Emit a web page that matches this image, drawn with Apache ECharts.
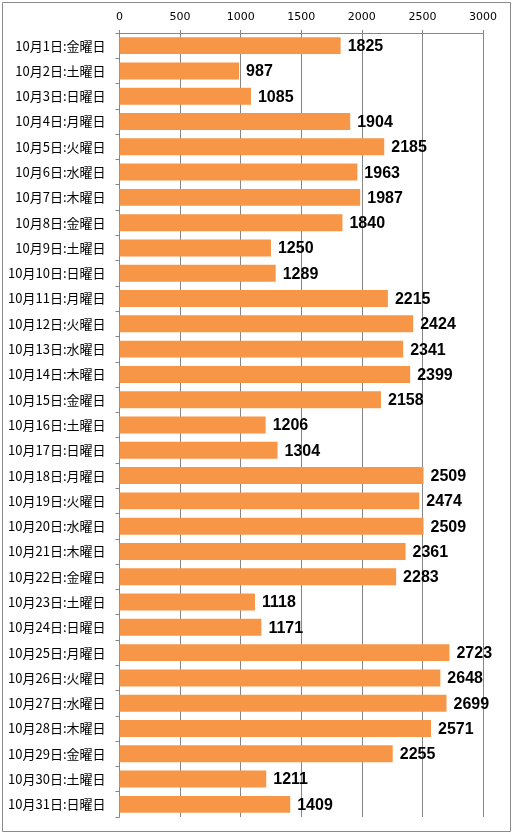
<!DOCTYPE html>
<html><head><meta charset="utf-8">
<script src="https://cdn.jsdelivr.net/npm/echarts@6/dist/echarts.min.js"></script>
<style>html,body{margin:0;padding:0;background:#fff}#c{width:513px;height:834px}</style>
</head><body><div id="c"></div>
<script>
var days = [];
var weekdays = ['金','土','日','月','火','水','木'];
for (var d = 1; d <= 31; d++) { days.push('10月' + d + '日:' + weekdays[(d - 1) % 7] + '曜日'); }
var values = [1825, 987, 1085, 1904, 2185, 1963, 1987, 1840, 1250, 1289, 2215, 2424, 2341, 2399, 2158, 1206, 1304, 2509, 2474, 2509, 2361, 2283, 1118, 1171, 2723, 2648, 2699, 2571, 2255, 1211, 1409];
var chart = echarts.init(document.getElementById('c'));
chart.setOption({
  animation: false,
  backgroundColor: '#fff',
  graphic: [{type: 'rect', shape: {x: 2.5, y: 2.5, width: 508, height: 829}, style: {fill: 'none', stroke: '#8a8a8a', lineWidth: 1}}],
  grid: {left: 119.5, right: 30, top: 33, bottom: 17},
  xAxis: {
    type: 'value', position: 'top', min: 0, max: 3000, interval: 500,
    axisLine: {show: true, lineStyle: {color: '#868686'}},
    axisTick: {show: true, length: 3, lineStyle: {color: '#868686'}},
    splitLine: {show: true, lineStyle: {color: '#868686'}},
    axisLabel: {color: '#000', fontSize: 11, margin: 10, fontFamily: 'DejaVu Sans', formatter: function (v) { return String(v); }}
  },
  yAxis: {
    type: 'category', data: days, inverse: true,
    axisLine: {show: true, lineStyle: {color: '#868686'}},
    axisTick: {show: true, length: 4, lineStyle: {color: '#868686'}},
    axisLabel: {color: '#000', fontSize: 13, margin: 14, fontFamily: 'Noto Sans CJK JP'}
  },
  series: [{
    type: 'bar', data: values, barCategoryGap: '33%',
    itemStyle: {color: '#F79646'},
    label: {show: true, position: 'right', distance: 7, offset: [0, 1], color: '#000', fontWeight: 'bold', fontSize: 16, fontFamily: 'Liberation Sans'}
  }]
});
</script></body></html>
